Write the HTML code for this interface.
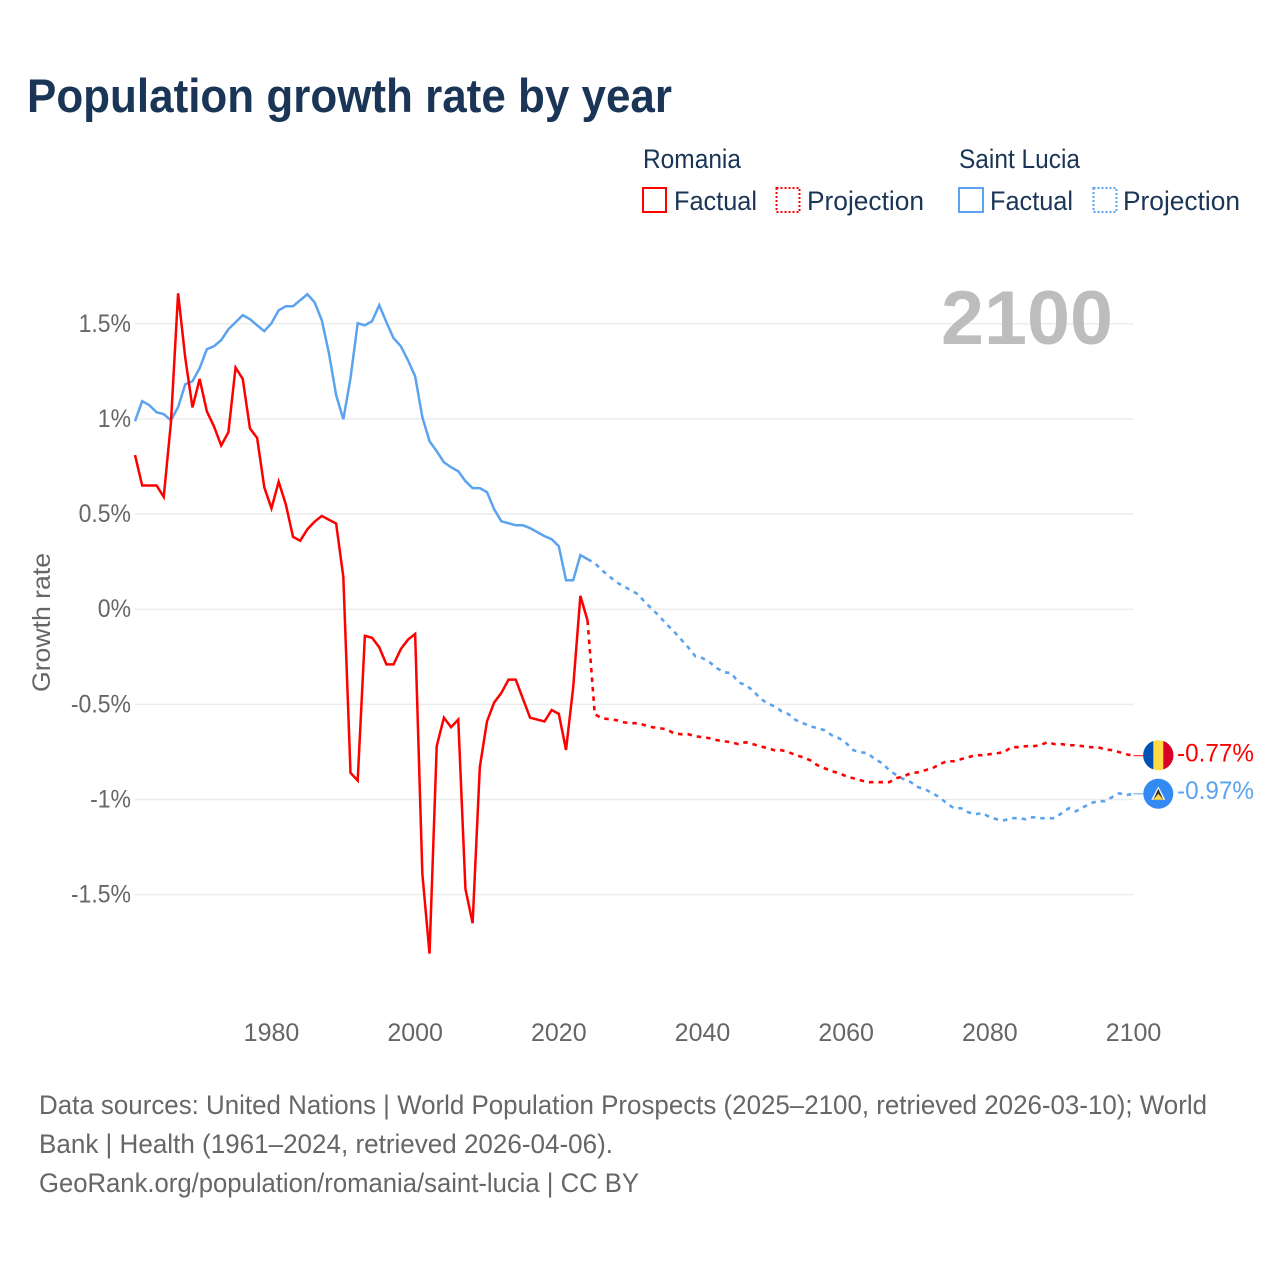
<!DOCTYPE html>
<html lang="en">
<head>
<meta charset="utf-8">
<title>Population growth rate by year</title>
<style>
html,body{margin:0;padding:0;background:#fff;width:1280px;height:1280px;overflow:hidden}
svg{display:block}
text{font-family:"Liberation Sans",sans-serif}
</style>
</head>
<body>
<svg id="chart" xmlns="http://www.w3.org/2000/svg" width="1280" height="1280" viewBox="0 0 1280 1280">
  <rect width="1280" height="1280" fill="#fff"/>
  <text x="27" y="112" font-size="47" font-weight="700" fill="#1a3556" textLength="645" lengthAdjust="spacingAndGlyphs">Population growth rate by year</text>

  <g font-size="27" fill="#1a3556">
    <text x="643" y="168" textLength="98" lengthAdjust="spacingAndGlyphs">Romania</text>
    <text x="959" y="168" textLength="121" lengthAdjust="spacingAndGlyphs">Saint Lucia</text>
    <g>
      <rect x="643" y="188" width="23" height="24" fill="none" stroke="#ff0000" stroke-width="2"/>
      <text x="674" y="210" textLength="83" lengthAdjust="spacingAndGlyphs">Factual</text>
    </g>
    <g>
      <rect x="776.5" y="188" width="23" height="24" fill="none" stroke="#ff0000" stroke-width="2" stroke-dasharray="2 2"/>
      <text x="807" y="210" textLength="117" lengthAdjust="spacingAndGlyphs">Projection</text>
    </g>
    <g>
      <rect x="959" y="188" width="24" height="24" fill="none" stroke="#5ba3ee" stroke-width="2"/>
      <text x="990" y="210" textLength="83" lengthAdjust="spacingAndGlyphs">Factual</text>
    </g>
    <g>
      <rect x="1093.5" y="188" width="23" height="24" fill="none" stroke="#5ba3ee" stroke-width="2" stroke-dasharray="2 2"/>
      <text x="1123" y="210" textLength="117" lengthAdjust="spacingAndGlyphs">Projection</text>
    </g>
  </g>

  <g id="grid"></g>
  <text x="941" y="344" font-size="76" font-weight="700" fill="#bdbdbd" textLength="172" lengthAdjust="spacingAndGlyphs">2100</text>
  <g id="yticks"></g>
  <g id="xticks"></g>
  <text transform="translate(50,622.5) rotate(-90)" text-anchor="middle" font-size="25" fill="#666" textLength="139" lengthAdjust="spacingAndGlyphs">Growth rate</text>
  <g id="series"></g>

  <g id="flag-romania">
    <circle r="15" cx="0" cy="0" fill="#ffda44"/>
    <path d="M-5 -14.2A15 15 0 0 0 -5 14.2Z" fill="#0052b4"/>
    <path d="M5 -14.2A15 15 0 0 1 5 14.2Z" fill="#d80027"/>
  </g>
  <g id="flag-saint-lucia">
    <circle r="15" cx="0" cy="0" fill="#338af3"/>
    <path d="M0 -7.5L7 6H-7Z" fill="#f3f3f3"/>
    <path d="M0 -5L5 6H-5Z" fill="#333"/>
    <path d="M0 0L5 6H-5Z" fill="#ffda44"/>
  </g>
  <g id="end-labels"></g>

  <g font-size="27" fill="#666">
    <text x="39" y="1114" textLength="1168" lengthAdjust="spacingAndGlyphs">Data sources: United Nations | World Population Prospects (2025–2100, retrieved 2026-03-10); World</text>
    <text x="39" y="1153" textLength="574" lengthAdjust="spacingAndGlyphs">Bank | Health (1961–2024, retrieved 2026-04-06).</text>
    <text x="39" y="1192" textLength="600" lengthAdjust="spacingAndGlyphs">GeoRank.org/population/romania/saint-lucia | CC BY</text>
  </g>
</svg>
<script>
var yTickValues = [1.5, 1, 0.5, 0, -0.5, -1, -1.5];
var yTickLabels = ['1.5%', '1%', '0.5%', '0%', '-0.5%', '-1%', '-1.5%'];
var xTickYears = [1980, 2000, 2020, 2040, 2060, 2080, 2100];
var firstYear = 1961;
var projectionFirstYear = 2024;
var lastYear = 2100;

var romaniaFactual = [0.81,0.65,0.65,0.65,0.59,0.98,1.66,1.32,1.06,1.21,1.04,0.96,0.86,0.93,1.27,1.21,0.95,0.90,0.64,0.53,0.67,0.55,0.38,0.36,0.42,0.46,0.49,0.47,0.45,0.17,-0.86,-0.90,-0.14,-0.15,-0.20,-0.29,-0.29,-0.21,-0.16,-0.13,-1.39,-1.81,-0.72,-0.57,-0.62,-0.58,-1.47,-1.65,-0.83,-0.59,-0.49,-0.44,-0.37,-0.37,-0.47,-0.57,-0.58,-0.59,-0.53,-0.55,-0.74,-0.41,0.07,-0.06];
var romaniaProjection = [-0.06,-0.552,-0.573,-0.578,-0.583,-0.594,-0.599,-0.599,-0.61,-0.62,-0.625,-0.631,-0.652,-0.657,-0.657,-0.667,-0.673,-0.678,-0.688,-0.694,-0.699,-0.709,-0.699,-0.709,-0.72,-0.73,-0.741,-0.741,-0.751,-0.767,-0.778,-0.794,-0.82,-0.836,-0.851,-0.862,-0.878,-0.888,-0.899,-0.909,-0.909,-0.909,-0.909,-0.888,-0.878,-0.862,-0.857,-0.846,-0.836,-0.815,-0.799,-0.799,-0.788,-0.778,-0.767,-0.767,-0.762,-0.757,-0.751,-0.725,-0.725,-0.72,-0.72,-0.715,-0.699,-0.709,-0.709,-0.715,-0.715,-0.72,-0.725,-0.725,-0.736,-0.741,-0.751,-0.762,-0.77];
var saintLuciaFactual = [0.988,1.093,1.072,1.035,1.025,0.993,1.062,1.182,1.198,1.266,1.366,1.382,1.414,1.471,1.508,1.545,1.524,1.492,1.461,1.503,1.571,1.592,1.592,1.624,1.655,1.613,1.519,1.345,1.125,0.998,1.214,1.503,1.492,1.513,1.598,1.508,1.424,1.382,1.308,1.224,1.009,0.883,0.83,0.772,0.746,0.725,0.673,0.636,0.636,0.615,0.525,0.462,0.452,0.441,0.441,0.426,0.405,0.384,0.368,0.331,0.152,0.152,0.284,0.263];
var saintLuciaProjection = [0.263,0.242,0.205,0.173,0.142,0.121,0.1,0.079,0.037,0,-0.037,-0.079,-0.116,-0.158,-0.2,-0.247,-0.257,-0.279,-0.31,-0.331,-0.336,-0.384,-0.399,-0.426,-0.468,-0.494,-0.51,-0.536,-0.552,-0.583,-0.599,-0.615,-0.625,-0.636,-0.662,-0.678,-0.704,-0.741,-0.751,-0.757,-0.788,-0.809,-0.846,-0.872,-0.893,-0.909,-0.935,-0.946,-0.967,-0.988,-1.02,-1.046,-1.046,-1.067,-1.077,-1.072,-1.093,-1.104,-1.109,-1.098,-1.098,-1.104,-1.093,-1.098,-1.098,-1.098,-1.072,-1.046,-1.062,-1.041,-1.02,-1.009,-1.009,-0.988,-0.967,-0.977,-0.97];

var endLabels = ['-0.77%', '-0.97%'];

var NS = 'http://www.w3.org/2000/svg';
var plotLeft = 135, plotRight = 1133.5, zeroY = 609.2, pxPerUnit = 190.3;
var lineRed = '#ff0000', lineBlue = '#5ba3ee';

function xScale(year) {
  return plotLeft + (year - firstYear) * (plotRight - plotLeft) / (lastYear - firstYear);
}
function yScale(value) {
  return zeroY - value * pxPerUnit;
}
function make(tag, attrs, parent) {
  var el = document.createElementNS(NS, tag);
  for (var k in attrs) el.setAttribute(k, attrs[k]);
  parent.appendChild(el);
  return el;
}
function pathFrom(values, startYear) {
  var d = '';
  for (var i = 0; i < values.length; i++) {
    d += (i ? 'L' : 'M') + xScale(startYear + i).toFixed(2) + ' ' + yScale(values[i]).toFixed(2);
  }
  return d;
}

var gridGroup = document.getElementById('grid');
var yTickGroup = document.getElementById('yticks');
var xTickGroup = document.getElementById('xticks');
var seriesGroup = document.getElementById('series');
var labelGroup = document.getElementById('end-labels');

yTickValues.forEach(function (v, i) {
  var line = make('line', {x1: plotLeft, x2: plotRight, y1: yScale(v), y2: yScale(v), stroke: '#ececec', 'stroke-width': 1.5}, gridGroup);
  
  
  var t = make('text', {x: 131, y: yScale(v) + 8, 'text-anchor': 'end', 'font-size': 25, fill: '#666'}, yTickGroup);
  
  
  t.textContent = yTickLabels[i];
  t.setAttribute('textLength', (t.getComputedTextLength() * 0.92).toFixed(1));
  t.setAttribute('lengthAdjust', 'spacingAndGlyphs');
});

xTickYears.forEach(function (yr) {
  var t = make('text', {x: xScale(yr), y: 1041, 'text-anchor': 'middle', 'font-size': 25, fill: '#666'}, xTickGroup);
  
  
  t.textContent = yr;
});

var blueFact = make('path', {d: pathFrom(saintLuciaFactual, firstYear), fill: 'none', stroke: lineBlue, 'stroke-width': 2.5, 'stroke-linejoin': 'miter'}, seriesGroup);


var blueProj = make('path', {d: pathFrom(saintLuciaProjection, projectionFirstYear), fill: 'none', stroke: lineBlue, 'stroke-width': 2.6, 'stroke-dasharray': '4.5 5'}, seriesGroup);


var redFact = make('path', {d: pathFrom(romaniaFactual, firstYear), fill: 'none', stroke: lineRed, 'stroke-width': 2.5, 'stroke-linejoin': 'miter'}, seriesGroup);


var redProj = make('path', {d: pathFrom(romaniaProjection, projectionFirstYear), fill: 'none', stroke: lineRed, 'stroke-width': 2.6, 'stroke-dasharray': '4.5 5'}, seriesGroup);



var redEnd = romaniaProjection[romaniaProjection.length - 1];
var blueEnd = saintLuciaProjection[saintLuciaProjection.length - 1];
var flagX = 1158.3;

document.getElementById('flag-romania').setAttribute('transform', 'translate(' + flagX + ',' + (yScale(redEnd) - 0.5) + ')');
document.getElementById('flag-saint-lucia').setAttribute('transform', 'translate(' + flagX + ',' + yScale(blueEnd) + ')');

var redConn = make('line', {x1: plotRight, x2: flagX - 15, y1: yScale(redEnd), y2: yScale(redEnd), stroke: lineRed, 'stroke-width': 1}, seriesGroup);


var blueConn = make('line', {x1: plotRight, x2: flagX - 15, y1: yScale(blueEnd), y2: yScale(blueEnd), stroke: lineBlue, 'stroke-width': 1}, seriesGroup);



var redLabel = make('text', {x: 1177, y: yScale(redEnd) + 6, 'font-size': 25, fill: lineRed}, labelGroup);


redLabel.textContent = endLabels[0];
redLabel.setAttribute('textLength', '77');
redLabel.setAttribute('lengthAdjust', 'spacingAndGlyphs');
var blueLabel = make('text', {x: 1177, y: yScale(blueEnd) + 5, 'font-size': 25, fill: lineBlue}, labelGroup);


blueLabel.textContent = endLabels[1];
blueLabel.setAttribute('textLength', '77');
blueLabel.setAttribute('lengthAdjust', 'spacingAndGlyphs');
</script>
</body>
</html>
